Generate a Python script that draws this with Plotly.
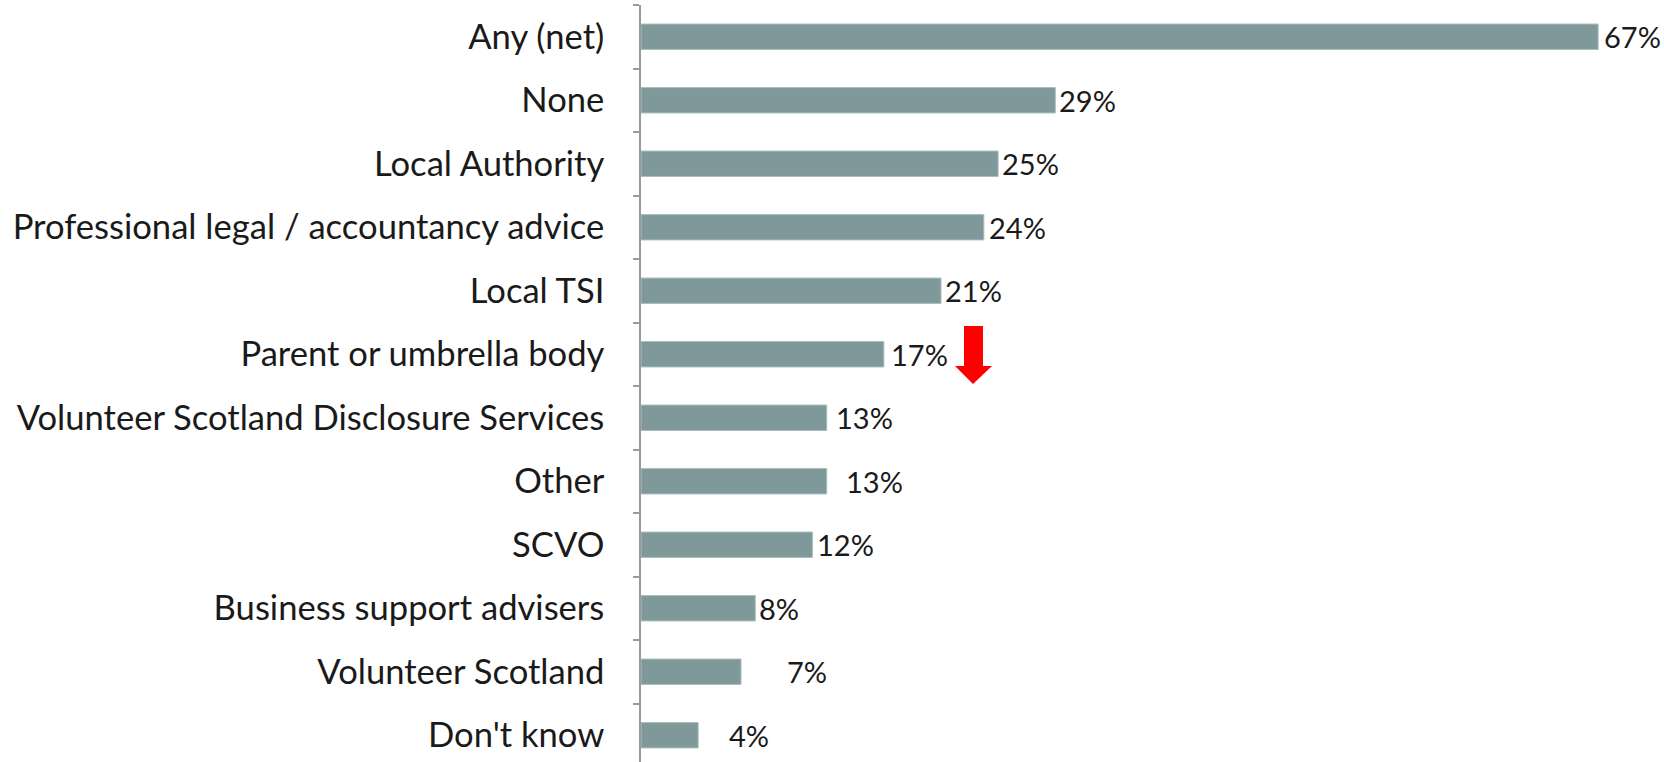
import plotly.graph_objects as go

categories = [
    "Any (net)",
    "None",
    "Local Authority",
    "Professional legal / accountancy advice",
    "Local TSI",
    "Parent or umbrella body",
    "Volunteer Scotland Disclosure Services",
    "Other",
    "SCVO",
    "Business support advisers",
    "Volunteer Scotland",
    "Don't know",
]
values = [67, 29, 25, 24, 21, 17, 13, 13, 12, 8, 7, 4]
value_labels = ["67%", "29%", "25%", "24%", "21%", "17%", "13%", "13%", "12%", "8%", "7%", "4%"]

# pixel offsets of the data labels from the bar ends (as placed in the original)
label_offsets = [4, 2, 2, 3, 2, 5, 7, 17, 3, 2, 44, 29]

W, H = 1664, 762
L, R, T, B = 641, 23, 5, 0
XMAX = 70

BAR = "#7F999B"
FONT = "Lato, 'Open Sans', sans-serif"

fig = go.Figure()
fig.add_trace(go.Bar(
    y=categories, x=values, orientation="h",
    marker=dict(color=BAR, line=dict(color="#A9BDBF", width=1)),
    width=0.4, hoverinfo="skip",
))

for c, v, t, off in zip(categories, values, value_labels, label_offsets):
    fig.add_annotation(x=v, y=c, text=t, showarrow=False, xanchor="left",
                       yanchor="middle", xshift=off,
                       font=dict(family=FONT, size=29, color="#1a1a1a"))

# red down arrow (pixel geometry converted to paper coords)
pw, ph = W - L - R, H - T - B
def px(x):
    return (x - L) / pw
def py(y):
    return 1 - (y - T) / ph
pts = [(964, 326), (983, 326), (983, 366), (992, 366), (973, 384), (955, 366), (964, 366)]
path = "M " + " L ".join(f"{px(x):.5f},{py(y):.5f}" for x, y in pts) + " Z"
fig.add_shape(type="path", path=path, xref="paper", yref="paper",
              fillcolor="#FF0000", line=dict(width=0))

n_vis = ph / 63.5
fig.update_layout(
    width=W, height=H,
    margin=dict(l=L, r=R, t=T, b=B, pad=0),
    paper_bgcolor="white", plot_bgcolor="white",
    showlegend=False,
    bargap=0.6,
    font=dict(family=FONT, size=29, color="#1a1a1a"),
    xaxis=dict(range=[0, XMAX], visible=False, fixedrange=True),
    yaxis=dict(
        type="category",
        range=[-0.5 + n_vis, -0.5],
        showline=True, linecolor="#9A9A9A", linewidth=1.5,
        ticks="outside", tickson="boundaries", ticklen=6, tickwidth=1.5,
        tickcolor="#9A9A9A", showgrid=False, zeroline=False,
        ticklabelstandoff=28,
        tickfont=dict(family=FONT, size=34.6, color="#1a1a1a"),
    ),
)

fig.write_html("out.html",
               config={"displayModeBar": False},
               post_script="document.body.style.margin='0';document.body.style.overflow='hidden';")
